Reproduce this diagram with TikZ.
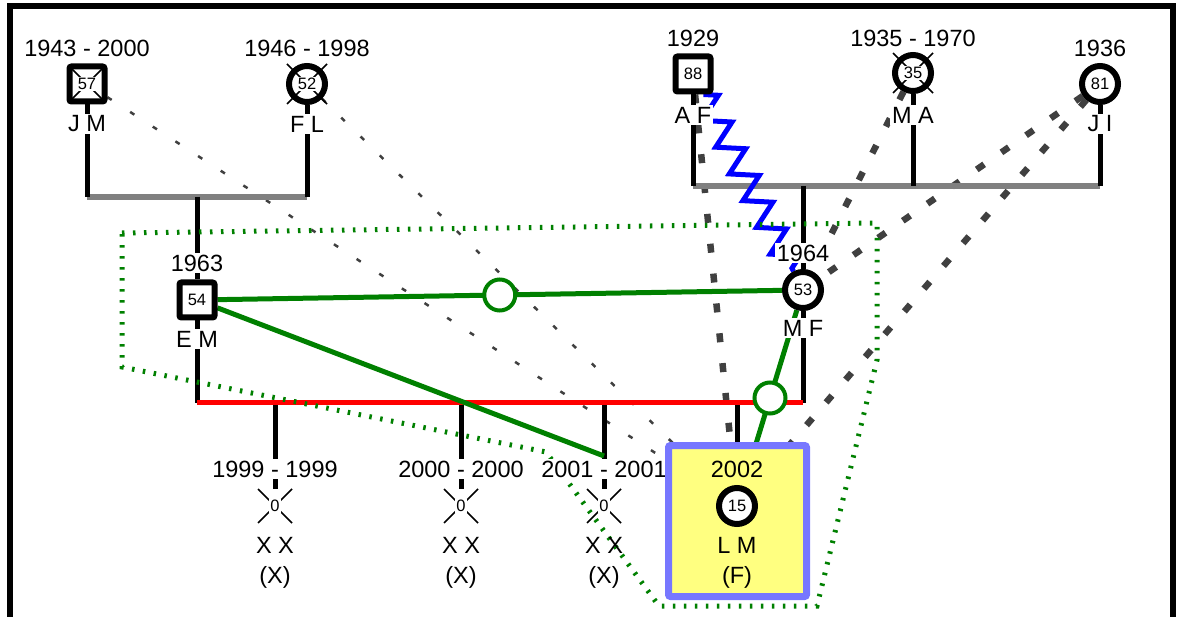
\documentclass[tikz,border=0pt]{standalone}
\usepackage{fontspec}
\setmainfont{Liberation Sans}
\usetikzlibrary{calc,backgrounds,decorations.pathmorphing}
\definecolor{gnGreen} {RGB}{  0,128,  0}
\definecolor{gnRed}   {RGB}{255,  0,  0}
\definecolor{gnBlue}  {RGB}{  0,  0,255}
\definecolor{gnGrey}  {RGB}{128,128,128}
\definecolor{gnDark}  {RGB}{ 64, 64, 64}
\definecolor{gnYellow}{RGB}{255,255,128}
\definecolor{gnViolet}{RGB}{119,119,255}
\newcommand\xmark[2]{\draw[xline] ($(#1)+(-#2,-#2)$) -- ($(#1)+(#2,#2)$)
  ($(#1)+(#2,-#2)$) -- ($(#1)+(-#2,#2)$);}

\begin{document}
\begin{tikzpicture}[
  x=1pt,y=-1pt,
  every node/.style={font=\fontsize{23.5}{26}\selectfont},
  male/.style  ={draw,line width=6pt,fill=white,rounded corners=2pt,
                 minimum size=35pt,inner sep=0pt},
  female/.style={circle,draw,line width=6pt,fill=white,
                 minimum size=36pt,inner sep=0pt},
  misc/.style  ={minimum size=34pt,inner sep=0pt},
  num/.style   ={fill=white,inner sep=1pt,font=\fontsize{16.5}{18}\selectfont},
  lbl/.style   ={fill=white,inner sep=2pt},
  focus/.style ={draw=gnViolet,fill=gnYellow,line width=7pt,rounded corners=2pt,
                 minimum width=138pt,minimum height=151pt},
  xline/.style ={line width=1.6pt},
  fam/.style   ={line width=5pt},
  couple/.style={gnGrey,line width=6pt},
  conflict/.style={gnRed,line width=5pt},
  closeline/.style={gnGreen,line width=5pt},
  closering/.style={circle,draw=gnGreen,line width=4pt,fill=white,
                 minimum size=31pt,inner sep=0pt},
  hostile/.style={gnBlue,line width=5pt,decorate,
                 decoration={zigzag,segment length=30pt,amplitude=13pt}},
  distant/.style={gnDark,line width=2.5pt,dash pattern=on 5pt off 22pt},
  cutoff/.style ={gnDark,line width=6.5pt,dash pattern=on 9pt off 21pt},
  house/.style  ={gnGreen,line width=5pt,dash pattern=on 2.5pt off 8.5pt}
]
\useasboundingbox (0,0) rectangle (1178,617);
\draw[line width=6pt] (10,630) -- (10,6) -- (1173,6) -- (1173,630);

\node[lbl]    (JMy) at (87,48)  {1943 - 2000};
\node[male]   (JM)  at (87,84)  {};
\node[lbl]    (JMn) at (87,124) {J M};
\node[lbl]    (FLy) at (307,48)  {1946 - 1998};
\node[female] (FL)  at (307,84)  {};
\node[lbl]    (FLn) at (307,124) {F L};
\node[lbl]    (AFy) at (693,38)  {1929};
\node[male]   (AF)  at (693,74)  {};
\node[lbl]    (AFn) at (693,115) {A F};
\node[lbl]    (MAy) at (913,38)  {1935 - 1970};
\node[female] (MA)  at (913,73)  {};
\node[lbl]    (MAn) at (913,115) {M A};
\node[lbl]    (JIy) at (1100,48)  {1936};
\node[female] (JI)  at (1100,84)  {};
\node[lbl]    (JIn) at (1100,124) {J I};

\node[lbl]    (EMy) at (197,263) {1963};
\node[male]   (EM)  at (197,300) {};
\node[lbl]    (EMn) at (197,339) {E M};
\node[lbl]    (MFy) at (803,253) {1964};
\node[female] (MF)  at (803,290) {};
\node[lbl]    (MFn) at (803,328) {M F};

\foreach \k/\x/\y in {K1/275/1999,K2/461/2000,K3/604/2001} {
  \node[lbl]  (y\k) at (\x,469) {\y\ - \y};
  \node[misc] (\k)  at (\x,506) {};
  \node       (n\k) at (\x,545) {X X};
  \node       (g\k) at (\x,577) {(X)};
}

\node[focus]  (LMbox) at (737.5,521) {};
\node         (LMy) at (737,469) {2002};
\node[female] (LMs) at (737,506) {};
\node         (LMn) at (737,545) {L M};
\node         (LMg) at (737,577) {(F)};

\foreach \p/\r in {JM/17,FL/20,MA/20,K1/17,K2/17,K3/17} \xmark{\p}{\r}
\foreach \p/\n in {JM/57,FL/52,AF/88,MA/35,JI/81,EM/54,MF/53,LMs/15,K1/0,K2/0,K3/0}
  \node[num] (v\p) at (\p) {\n};

\coordinate (c1l) at (87,197);
\coordinate (c1m) at (197,197);
\coordinate (c1r) at (307,197);
\coordinate (c2l) at (693,186);
\coordinate (c2m) at (803,186);
\coordinate (c2r) at (1100,186);
\coordinate (c3l) at (197,403);
\coordinate (c3r) at (803,403);
\coordinate (K3t) at (604,456);

\begin{scope}[on background layer]
\foreach \s in {JM,FL} \draw[distant] (\s) -- (LMs);
\foreach \s in {AF,JI} \draw[cutoff] (\s) -- (LMs);
\foreach \s in {MA,JI} \draw[cutoff] (\s) -- (MF);

\draw[couple] (c1l) -- (c1r);
\draw[fam] (JM) -- (c1l);
\draw[fam] (FL) -- (c1r);
\draw[fam] (c1m) -- (EM);
\draw[couple] (c2l) -- (c2r);
\foreach \p in {AF,MA,JI} \draw[fam] (\p) -- (\p |- c2l);
\draw[fam] (c2m) -- (MF);

\draw[fam] (EM) -- (c3l);
\draw[fam] (MF) -- (c3r);
\foreach \k in {K1,K2,K3,LMs} \draw[fam] (\k |- c3l) -- (\k);
\draw[conflict] (c3l) -- (c3r);

\draw[hostile] (AF) -- (MF);
\draw[closeline] (EM) -- (MF) node[closering,midway] (r1) {};
\draw[closeline] (MF) -- (LMs) node[closering,midway] (r2) {};
\draw[closeline] (EM) -- (K3t);

\draw[house] (122,233) -- (877,223) -- (877,360) -- (817,606) -- (659,606)
  -- (546,452) -- (122,367) -- cycle;
\end{scope}
\end{tikzpicture}
\end{document}
